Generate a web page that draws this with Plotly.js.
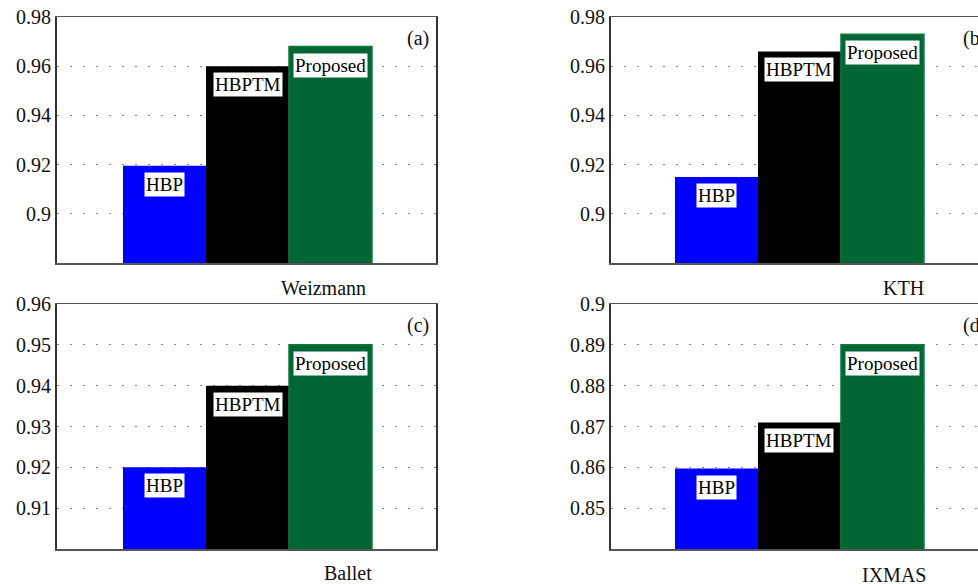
<!DOCTYPE html>
<html>
<head>
<meta charset="utf-8">
<script src="https://cdn.plot.ly/plotly-3.0.1.min.js"></script>
<style>html,body{margin:0;padding:0;background:#fff;}#chart{width:978px;height:584px;}</style>
</head>
<body>
<div id="chart"></div>
<script>
// ---- data ----
const methods = ["HBP", "HBPTM", "Proposed"];
const datasets = ["Weizmann", "KTH", "Ballet", "IXMAS"];
const panelTags = ["(a)", "(b)", "(c)", "(d)"];
const weizmannVals = [0.9195, 0.960, 0.968];
const kthVals = [0.915, 0.966, 0.973];
const balletVals = [0.920, 0.940, 0.950];
const ixmasVals = [0.8597, 0.871, 0.890];
const tickValsTop = [0.90, 0.92, 0.94, 0.96, 0.98];
const tickTextTop = ["0.9", "0.92", "0.94", "0.96", "0.98"];
const tickValsBallet = [0.91, 0.92, 0.93, 0.94, 0.95, 0.96];
const tickTextBallet = ["0.91", "0.92", "0.93", "0.94", "0.95", "0.96"];
const tickValsIxmas = [0.85, 0.86, 0.87, 0.88, 0.89, 0.90];
const tickTextIxmas = ["0.85", "0.86", "0.87", "0.88", "0.89", "0.9"];

// ---- styling / layout ----
const colors = ["#0000ff", "#000000", "#006633"];
const FONT = "Liberation Serif, Times New Roman, serif";
const TXT = "#111";
const xPos = [0, 1, 2];
const panels = [
  {vals: weizmannVals, xa: "x", ya: "y", xdom: [57/978, 436/978], ydom: [321/584, 567/584], xr: [-1.295, 3.271], yr: [0.88, 0.98], tv: tickValsTop, tt: tickTextTop, right: false, lab: [323/978, 0.507]},
  {vals: kthVals, xa: "x2", ya: "y2", xdom: [611/978, 1], ydom: [321/584, 567/584], xr: [-1.271, 3.151], yr: [0.88, 0.98], tv: tickValsTop, tt: tickTextTop, right: true, lab: [903/978, 0.507]},
  {vals: balletVals, xa: "x3", ya: "y3", xdom: [57/978, 436/978], ydom: [35/584, 280/584], xr: [-1.295, 3.271], yr: [0.90, 0.96], tv: tickValsBallet, tt: tickTextBallet, right: false, lab: [348/978, 0.018]},
  {vals: ixmasVals, xa: "x4", ya: "y4", xdom: [611/978, 1], ydom: [35/584, 280/584], xr: [-1.271, 3.151], yr: [0.84, 0.90], tv: tickValsIxmas, tt: tickTextIxmas, right: true, lab: [894/978, 0.016]}
];

const traces = [];
const annotations = [];
const layout = {
  width: 978, height: 584,
  margin: {l: 0, r: 0, t: 0, b: 0},
  paper_bgcolor: "#ffffff", plot_bgcolor: "#ffffff",
  showlegend: false,
  font: {family: FONT, size: 20, color: TXT},
  annotations: annotations
};

panels.forEach((p, i) => {
  methods.forEach((m, j) => {
    traces.push({
      type: "bar", x: [xPos[j]], y: [p.vals[j]], width: [1],
      xaxis: p.xa, yaxis: p.ya, name: m,
      marker: {color: colors[j], line: {width: j === 2 ? 1.5 : 0, color: "#0f7a3c"}},
      hoverinfo: "skip"
    });
    annotations.push({
      xref: p.xa, yref: p.ya, x: xPos[j], y: p.vals[j],
      text: m, showarrow: false, yanchor: "top", xanchor: "center",
      yshift: -6, bgcolor: "#ffffff", borderpad: 1,
      font: {family: FONT, size: 19, color: "#000"}
    });
  });
  const xk = "xaxis" + (i === 0 ? "" : i + 1);
  const yk = "yaxis" + (i === 0 ? "" : i + 1);
  layout[xk] = {
    domain: p.xdom, range: p.xr, anchor: p.ya,
    showticklabels: false, ticks: "", showgrid: false, zeroline: false,
    showline: true, mirror: true, linecolor: "#555", linewidth: 1.5, fixedrange: true
  };
  layout[yk] = {
    domain: p.ydom, range: p.yr, anchor: p.xa,
    tickvals: p.tv, ticktext: p.tt, ticks: "",
    tickfont: {family: FONT, size: 20, color: TXT},
    showgrid: true, gridcolor: "#888", gridwidth: 1.2, griddash: "2px,11px",
    zeroline: false, showline: true, mirror: p.right ? false : true,
    linecolor: "#333", linewidth: 2, fixedrange: true
  };
  // panel tag
  annotations.push({
    xref: p.right ? "paper" : p.xa + " domain", yref: p.ya + " domain",
    x: 1, y: 1, xanchor: "right", yanchor: "top",
    xshift: p.right ? 10 : -5, yshift: -8,
    text: panelTags[i], showarrow: false,
    font: {family: FONT, size: 20, color: TXT}
  });
  // dataset label
  annotations.push({
    xref: "paper", yref: "paper", x: p.lab[0], y: p.lab[1],
    xanchor: "center", yanchor: "middle",
    text: datasets[i], showarrow: false,
    font: {family: FONT, size: 20, color: TXT}
  });
});

Plotly.newPlot("chart", traces, layout, {staticPlot: true, displayModeBar: false});
</script>
</body>
</html>
